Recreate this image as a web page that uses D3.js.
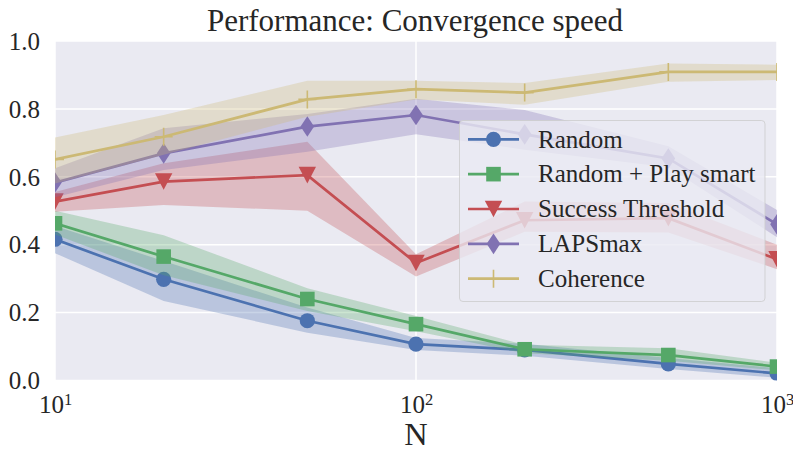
<!DOCTYPE html>
<html><head><meta charset="utf-8">
<script src="https://cdn.jsdelivr.net/npm/d3@7"></script>
<style>body{margin:0;background:#fff}svg{display:block}svg text{font-family:"Liberation Serif",serif}</style>
</head><body>
<script>
const N = [10, 20, 50, 100, 200, 500, 1000];
const seriesNames = ["Random", "Random + Play smart", "Success Threshold", "LAPSmax", "Coherence"];
const randomMean = [0.416, 0.298, 0.176, 0.107, 0.090, 0.049, 0.021];
const randomLo   = [0.375, 0.234, 0.141, 0.090, 0.073, 0.034, 0.008];
const randomHi   = [0.455, 0.352, 0.215, 0.125, 0.108, 0.066, 0.036];
const smartMean  = [0.463, 0.365, 0.240, 0.166, 0.092, 0.075, 0.041];
const smartLo    = [0.430, 0.310, 0.205, 0.145, 0.080, 0.058, 0.030];
const smartHi    = [0.500, 0.428, 0.272, 0.190, 0.105, 0.095, 0.052];
const threshMean = [0.527, 0.586, 0.605, 0.346, 0.472, 0.478, 0.357];
const threshLo   = [0.497, 0.517, 0.500, 0.306, 0.438, 0.436, 0.328];
const threshHi   = [0.555, 0.640, 0.703, 0.372, 0.527, 0.523, 0.400];
const lapsMean   = [0.583, 0.669, 0.748, 0.782, 0.725, 0.654, 0.460];
const lapsLo     = [0.540, 0.620, 0.674, 0.725, 0.680, 0.628, 0.422];
const lapsHi     = [0.625, 0.743, 0.785, 0.830, 0.797, 0.690, 0.502];
const cohMean    = [0.651, 0.718, 0.828, 0.858, 0.848, 0.909, 0.909];
const cohLo      = [0.580, 0.665, 0.777, 0.828, 0.812, 0.880, 0.885];
const cohHi      = [0.716, 0.782, 0.883, 0.883, 0.876, 0.934, 0.930];
const yTicks = [0.0, 0.2, 0.4, 0.6, 0.8, 1.0];
const xTicks = [10, 100, 1000];

const colors = ["#4C72B0", "#55A868", "#C44E52", "#8172B2", "#CCB974"];
const markers = ["circle", "square", "tri", "diamond", "plus"];
const series = [
  {mean: randomMean, lo: randomLo, hi: randomHi},
  {mean: smartMean, lo: smartLo, hi: smartHi},
  {mean: threshMean, lo: threshLo, hi: threshHi},
  {mean: lapsMean, lo: lapsLo, hi: lapsHi},
  {mean: cohMean, lo: cohLo, hi: cohHi}
].map((s, i) => ({...s, name: seriesNames[i], color: colors[i], marker: markers[i]}));

const W = 793, H = 451;
const m = {left: 55, right: 777, top: 41, bottom: 380.5};
const font = "Liberation Serif";
const txt = "#262626";

const svg = d3.select("body").append("svg").attr("width", W).attr("height", H)
  .attr("font-family", font);

const x = d3.scaleLog().domain([10, 1000]).range([m.left, m.right]);
const y = d3.scaleLinear().domain([0, 1]).range([m.bottom, m.top]);

svg.append("rect").attr("x", m.left).attr("y", m.top)
  .attr("width", m.right - m.left).attr("height", m.bottom - m.top).attr("fill", "#EAEAF2");

svg.append("defs").append("clipPath").attr("id", "clip").append("rect")
  .attr("x", m.left).attr("y", m.top).attr("width", m.right - m.left).attr("height", m.bottom - m.top);

// grid
const grid = svg.append("g");
grid.selectAll("line.h").data(yTicks).join("line")
  .attr("x1", m.left).attr("x2", m.right).attr("y1", d => y(d)).attr("y2", d => y(d))
  .attr("stroke", "#fff").attr("stroke-width", 1.5);
grid.selectAll("line.v").data(xTicks).join("line")
  .attr("y1", m.top).attr("y2", m.bottom).attr("x1", d => x(d)).attr("x2", d => x(d))
  .attr("stroke", "#fff").attr("stroke-width", 1.5);

// axes (labels only)
const yAxis = svg.append("g").attr("transform", `translate(${m.left},0)`)
  .call(d3.axisLeft(y).tickValues(yTicks).tickFormat(d3.format(".1f")).tickSize(0).tickPadding(15));
yAxis.attr("font-family", font).attr("font-size", 25);
yAxis.select(".domain").remove();
yAxis.selectAll("text").attr("fill", txt).attr("font-family", font).attr("font-size", 25).attr("dy", "0.33em");

const xAxis = svg.append("g").attr("transform", `translate(0,${m.bottom})`)
  .call(d3.axisBottom(x).tickValues(xTicks).tickFormat("").tickSize(0));
xAxis.attr("font-family", font);
xAxis.select(".domain").remove();
xAxis.selectAll(".tick").each(function(d) {
  const t = d3.select(this).append("text").attr("y", 32.5).attr("text-anchor", "middle")
    .attr("fill", txt).attr("font-family", font).attr("font-size", 25);
  t.append("tspan").text("10");
  t.append("tspan").attr("dy", -8.3).attr("font-size", 16.5).text(String(Math.round(Math.log10(d))));
});

const plot = svg.append("g").attr("clip-path", "url(#clip)");

const area = d3.area().x((d, i) => x(N[i])).y0(d => y(d[0])).y1(d => y(d[1]));
const line = d3.line().x((d, i) => x(N[i])).y(d => y(d));

function drawMarker(g, type, color, cx, cy) {
  if (type === "circle") {
    g.append("circle").attr("cx", cx).attr("cy", cy).attr("r", 7.6).attr("fill", color);
  } else if (type === "square") {
    g.append("rect").attr("x", cx - 7.3).attr("y", cy - 7.3).attr("width", 14.6).attr("height", 14.6).attr("fill", color);
  } else if (type === "tri") {
    g.append("path").attr("d", `M${cx - 8.7},${cy - 8.3} L${cx + 8.7},${cy - 8.3} L${cx},${cy + 8.3} Z`).attr("fill", color);
  } else if (type === "diamond") {
    g.append("path").attr("d", `M${cx},${cy - 10.3} L${cx + 6.8},${cy} L${cx},${cy + 10.3} L${cx - 6.8},${cy} Z`).attr("fill", color);
  } else if (type === "plus") {
    g.append("path").attr("d", `M${cx - 9},${cy} L${cx + 9},${cy} M${cx},${cy - 9} L${cx},${cy + 9}`)
      .attr("stroke", color).attr("stroke-width", 1.6).attr("fill", "none");
  }
}

series.forEach(s => {
  const band = s.lo.map((v, i) => [v, s.hi[i]]);
  plot.append("path").datum(band).attr("d", area).attr("fill", s.color).attr("fill-opacity", 0.3);
  plot.append("path").datum(s.mean).attr("d", line).attr("fill", "none")
    .attr("stroke", s.color).attr("stroke-width", 2.7);
  const mg = plot.append("g");
  s.mean.forEach((v, i) => drawMarker(mg, s.marker, s.color, x(N[i]), y(v)));
});

// title and x label
svg.append("text").attr("x", (m.left + m.right) / 2 - 1).attr("y", 30.7).attr("text-anchor", "middle")
  .attr("fill", txt).attr("font-family", font).attr("font-size", 31).text("Performance: Convergence speed");
svg.append("text").attr("x", (m.left + m.right) / 2).attr("y", 445).attr("text-anchor", "middle")
  .attr("fill", txt).attr("font-family", font).attr("font-size", 32.5).text("N");

// legend
const lg = svg.append("g");
lg.append("rect").attr("x", 459.5).attr("y", 120.5).attr("width", 305.5).attr("height", 181)
  .attr("rx", 3.5).attr("fill", "#EAEAF2").attr("fill-opacity", 0.8)
  .attr("stroke", "#cccccc").attr("stroke-opacity", 0.8).attr("stroke-width", 1);
series.forEach((s, i) => {
  const cy = 139.3 + i * 34.85;
  lg.append("line").attr("x1", 468).attr("x2", 519).attr("y1", cy).attr("y2", cy)
    .attr("stroke", s.color).attr("stroke-width", 2.7);
  drawMarker(lg, s.marker, s.color, 493.5, cy);
  lg.append("text").attr("x", 538).attr("y", cy + 8.3).attr("fill", txt)
    .attr("font-family", font).attr("font-size", 25).text(s.name);
});
</script>
</body></html>
